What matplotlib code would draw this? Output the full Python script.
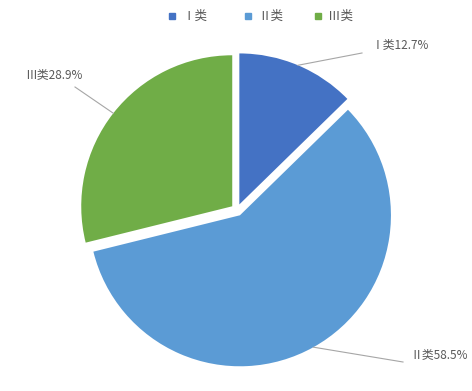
import matplotlib
matplotlib.use('Agg')
import matplotlib.pyplot as plt
import numpy as np

plt.rcParams['font.family'] = ['Noto Sans CJK SC', 'DejaVu Sans']

# Data
categories = ['Ⅰ类', 'Ⅱ类', 'Ⅲ类']
shares = [12.7, 58.5, 28.9]
colors = ['#4472C4', '#5B9BD5', '#70AD47']

W, H = 472, 391
R = 151.0          # pie radius in pixels
CX, CY = 237, 210  # pie centre in pixels (from top-left)

def px(x, y):
    # pixel (from top-left) -> data coords
    return (x - CX) / R, (CY - y) / R

fig = plt.figure(figsize=(W / 100, H / 100), dpi=100)
ax = fig.add_axes([0, 0, 1, 1])
ax.axis('off')

explode = [0.04, 0.04, 0.04]
wedges, _ = ax.pie(shares, colors=colors, startangle=90, counterclock=False,
                   explode=explode, radius=1, center=(0, 0),
                   wedgeprops=dict(linewidth=0))
ax.set_xlim(-CX / R, (W - CX) / R)
ax.set_ylim(-(H - CY) / R, CY / R)
ax.set_aspect('auto')

# label text positions (pixels) and leader line ends
text_pos = [(372, 45), (410, 355), (25, 75)]
line_end = [(362, 53), (403, 362), (75, 87)]
for i, w in enumerate(wedges):
    mid = np.deg2rad((w.theta1 + w.theta2) / 2)
    ex = explode[i]
    p = ((1 + ex) * np.cos(mid), (1 + ex) * np.sin(mid))
    q = px(*line_end[i])
    ax.plot([p[0], q[0]], [p[1], q[1]], color='#A6A6A6', lw=0.8)
    tx, ty = px(*text_pos[i])
    ax.text(tx, ty, f'{categories[i]}{shares[i]}%', fontsize=8.5,
            color='#595959', ha='left', va='center')

# legend
leg_x = [172, 248, 318]
for i in range(3):
    lx, ly = px(leg_x[i], 16)
    ax.plot(lx, ly, marker='s', ms=4, color=colors[i], ls='none')
    tx, ty = px(leg_x[i] + 10, 16)
    ax.text(tx, ty, categories[i], fontsize=9, color='#595959',
            ha='left', va='center')

fig.savefig('out.png', dpi=100)
